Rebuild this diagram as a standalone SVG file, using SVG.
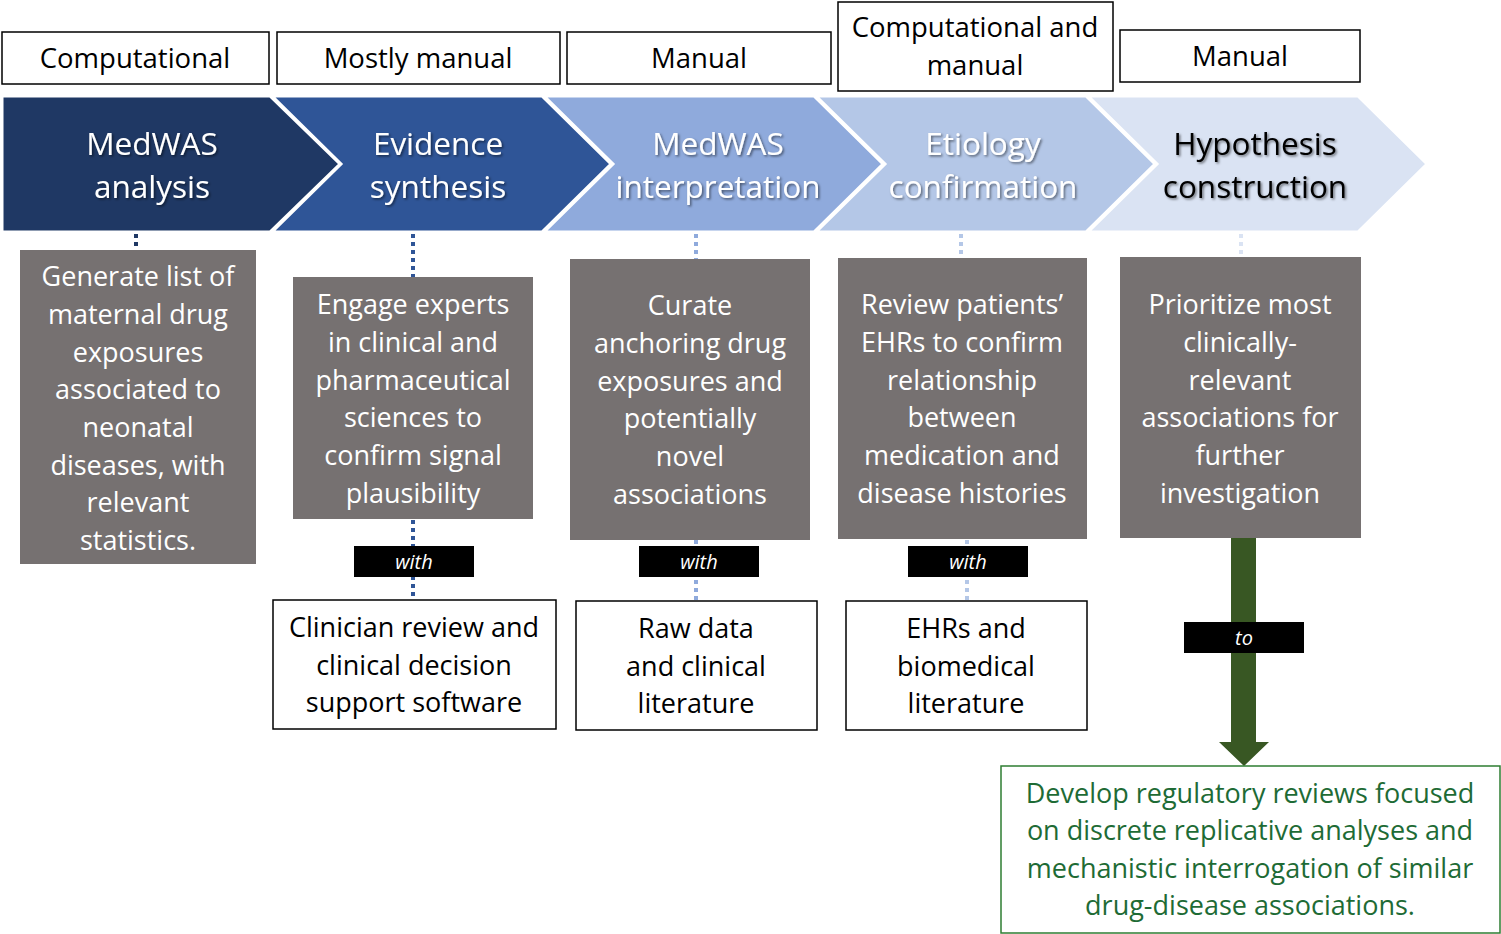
<svg xmlns="http://www.w3.org/2000/svg" width="1501" height="934" viewBox="0 0 1501 934">
<defs>
<filter id="sh" x="-10%" y="-10%" width="130%" height="140%">
<feDropShadow dx="1.5" dy="1.5" stdDeviation="1" flood-color="#000" flood-opacity="0.5"/>
</filter>
<style>
text{font-family:"Open Sans","Liberation Sans",sans-serif;text-anchor:middle;}
.lbl rect{fill:#fff;stroke:#000;stroke-width:1.5;}
.lbl text{font-size:27.5px;fill:#000;}
.chev polygon{stroke:#fff;stroke-width:3;stroke-linejoin:miter;}
.chev text{font-size:31.5px;filter:url(#sh);}
.gray rect{fill:#767171;}
.gray text{font-size:27px;fill:#fff;}
.src rect{fill:#fff;stroke:#000;stroke-width:1.5;}
.src text{font-size:27px;fill:#000;}
.tag rect{fill:#000;}
.tag text{font-size:20px;fill:#fff;font-style:italic;}
.dot{stroke-width:4;stroke-dasharray:4 4;fill:none;}
</style>
</defs>
<rect width="1501" height="934" fill="#fff"/>

<g id="labels">
<g id="lbl1" class="lbl"><rect x="2" y="32" width="267" height="52"/><text x="135" y="68">Computational</text></g>
<g id="lbl2" class="lbl"><rect x="277" y="32" width="283" height="52"/><text x="418" y="68">Mostly manual</text></g>
<g id="lbl3" class="lbl"><rect x="567" y="32" width="264" height="52"/><text x="699" y="68">Manual</text></g>
<g id="lbl4" class="lbl"><rect x="838" y="2" width="275" height="89"/><text x="975" y="37">Computational and</text><text x="975" y="75">manual</text></g>
<g id="lbl5" class="lbl"><rect x="1120" y="30" width="240" height="52"/><text x="1240" y="66">Manual</text></g>
</g>

<g id="chevrons">
<g id="chev1" class="chev"><polygon points="2,96 270,96 340,164 270,232 2,232" fill="#1F3864" stroke="none"/><text x="152" y="155" fill="#fff">MedWAS</text><text x="152" y="198" fill="#fff">analysis</text></g>
<g id="chev2" class="chev"><polygon points="272,96 542,96 611,164 542,232 272,232 341,164" fill="#2F5597"/><text x="438" y="155" fill="#fff">Evidence</text><text x="438" y="198" fill="#fff">synthesis</text></g>
<g id="chev3" class="chev"><polygon points="544,96 814,96 883,164 814,232 544,232 613,164" fill="#8FAADC"/><text x="718" y="155" fill="#fff">MedWAS</text><text x="718" y="198" fill="#fff">interpretation</text></g>
<g id="chev4" class="chev"><polygon points="816,96 1086,96 1155,164 1086,232 816,232 885,164" fill="#B4C7E7"/><text x="983" y="155" fill="#fff">Etiology</text><text x="983" y="198" fill="#fff">confirmation</text></g>
<g id="chev5" class="chev"><polygon points="1088,96 1358,96 1427,164 1358,232 1088,232 1157,164" fill="#DAE3F3"/><text x="1255" y="155" fill="#000">Hypothesis</text><text x="1255" y="198" fill="#000">construction</text></g>
</g>

<g id="connectors">
<line class="dot" x1="136" y1="234" x2="136" y2="250" stroke="#1F3864"/>
<line class="dot" x1="413" y1="234" x2="413" y2="277" stroke="#2F5597"/>
<line class="dot" x1="413" y1="520" x2="413" y2="600" stroke="#2F5597"/>
<line class="dot" x1="696" y1="234" x2="696" y2="259" stroke="#8FAADC"/>
<line class="dot" x1="696" y1="540" x2="696" y2="601" stroke="#8FAADC"/>
<line class="dot" x1="961" y1="234" x2="961" y2="258" stroke="#B4C7E7"/>
<line class="dot" x1="967" y1="540" x2="967" y2="601" stroke="#B4C7E7"/>
<line class="dot" x1="1241" y1="234" x2="1241" y2="257" stroke="#DAE3F3"/>
<polygon id="greenArrow" points="1231,538 1256,538 1256,742 1269,742 1244,766 1219,742 1231,742" fill="#385723"/>
</g>

<g id="gray1" class="gray"><rect x="20" y="250" width="236" height="314"/>
<text x="138" y="286">Generate list of</text><text x="138" y="324">maternal drug</text><text x="138" y="362">exposures</text><text x="138" y="399">associated to</text><text x="138" y="437">neonatal</text><text x="138" y="475">diseases, with</text><text x="138" y="512">relevant</text><text x="138" y="550">statistics.</text></g>

<g id="gray2" class="gray"><rect x="293" y="277" width="240" height="242"/>
<text x="413" y="314">Engage experts</text><text x="413" y="352">in clinical and</text><text x="413" y="390">pharmaceutical</text><text x="413" y="427">sciences to</text><text x="413" y="465">confirm signal</text><text x="413" y="503">plausibility</text></g>

<g id="gray3" class="gray"><rect x="570" y="259" width="240" height="281"/>
<text x="690" y="315">Curate</text><text x="690" y="353">anchoring drug</text><text x="690" y="391">exposures and</text><text x="690" y="428">potentially</text><text x="690" y="466">novel</text><text x="690" y="504">associations</text></g>

<g id="gray4" class="gray"><rect x="838" y="258" width="249" height="281"/>
<text x="962" y="314">Review patients’</text><text x="962" y="352">EHRs to confirm</text><text x="962" y="390">relationship</text><text x="962" y="427">between</text><text x="962" y="465">medication and</text><text x="962" y="503">disease histories</text></g>

<g id="gray5" class="gray"><rect x="1120" y="257" width="241" height="281"/>
<text x="1240" y="314">Prioritize most</text><text x="1240" y="352">clinically-</text><text x="1240" y="390">relevant</text><text x="1240" y="427">associations for</text><text x="1240" y="465">further</text><text x="1240" y="503">investigation</text></g>

<g id="with1" class="tag"><rect x="354" y="546" width="120" height="31"/><text x="414" y="569">with</text></g>
<g id="with2" class="tag"><rect x="639" y="546" width="120" height="31"/><text x="699" y="569">with</text></g>
<g id="with3" class="tag"><rect x="908" y="546" width="120" height="31"/><text x="968" y="569">with</text></g>
<g id="to1" class="tag"><rect x="1184" y="622" width="120" height="31"/><text x="1244" y="645">to</text></g>

<g id="src1" class="src"><rect x="273" y="600" width="283" height="129"/>
<text x="414" y="637">Clinician review and</text><text x="414" y="675">clinical decision</text><text x="414" y="712">support software</text></g>
<g id="src2" class="src"><rect x="576" y="601" width="241" height="129"/>
<text x="696" y="638">Raw data</text><text x="696" y="676">and clinical</text><text x="696" y="713">literature</text></g>
<g id="src3" class="src"><rect x="846" y="601" width="241" height="129"/>
<text x="966" y="638">EHRs and</text><text x="966" y="676">biomedical</text><text x="966" y="713">literature</text></g>

<g id="outcome"><rect x="1001" y="766" width="499" height="167" fill="#fff" stroke="#2E7D32" stroke-width="1.5"/>
<g font-size="27" fill="#1E6B35">
<text x="1250" y="803">Develop regulatory reviews focused</text><text x="1250" y="840">on discrete replicative analyses and</text><text x="1250" y="878">mechanistic interrogation of similar</text><text x="1250" y="915">drug-disease associations.</text></g></g>
</svg>
